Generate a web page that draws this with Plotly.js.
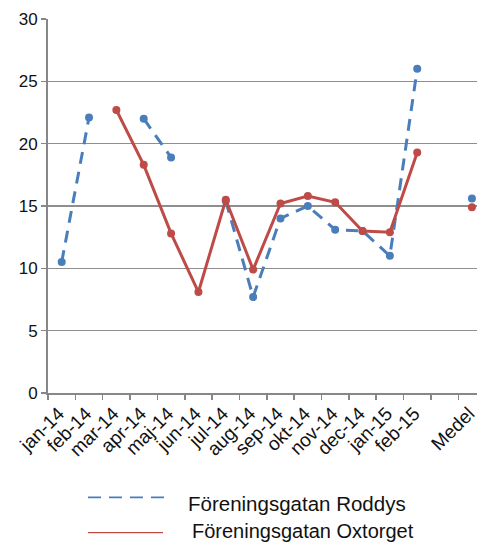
<!DOCTYPE html>
<html>
<head>
<meta charset="utf-8">
<script src="https://cdn.plot.ly/plotly-3.0.1.min.js"></script>
<style>
html,body{margin:0;padding:0;overflow:hidden;background:#fff;}
#chart{width:477px;height:542px;}
</style>
</head>
<body>
<div id="chart"></div>
<script>
var categories = ["jan-14","feb-14","mar-14","apr-14","maj-14","jun-14","jul-14","aug-14","sep-14","okt-14","nov-14","dec-14","jan-15","feb-15"," ","Medel"];
var roddys   = [10.5, 22.1, null, 22.0, 18.9, null, 15.4, 7.7, 14.0, 15.0, 13.1, 13.0, 11.0, 26.0, null, 15.6];
var oxtorget = [null, null, 22.7, 18.3, 12.8, 8.1, 15.5, 9.9, 15.2, 15.8, 15.3, 13.0, 12.9, 19.3, null, 14.9];
var seriesNames = ["Föreningsgatan Roddys", "Föreningsgatan Oxtorget"];
var yTicks = [0, 5, 10, 15, 20, 25, 30];

var blue = "#4A7EBB", red = "#BE4B48";
var W = 477, H = 542, mL = 48, mR = 0, mT = 19, mB = 149;
var pw = W - mL - mR, ph = H - mT - mB;
var catW = 27.35;
var xMax = -0.5 + pw / catW;
function px(x){ return (x - mL) / pw; }
function py(y){ return (H - mB - y) / ph; }

var traces = [
  {x: categories, y: roddys, type: "scatter", mode: "lines+markers", name: seriesNames[0],
   connectgaps: false, showlegend: false, cliponaxis: false,
   line: {color: blue, width: 3, dash: "12px,8px"},
   marker: {color: blue, size: 8}},
  {x: categories, y: oxtorget, type: "scatter", mode: "lines+markers", name: seriesNames[1],
   connectgaps: false, showlegend: false, cliponaxis: false,
   line: {color: red, width: 3},
   marker: {color: red, size: 8}}
];

var layout = {
  width: W, height: H,
  margin: {l: mL, r: mR, t: mT, b: mB},
  paper_bgcolor: "#fff", plot_bgcolor: "#fff",
  font: {family: "Liberation Sans, Arial, sans-serif", size: 16, color: "#111"},
  showlegend: false,
  xaxis: {
    type: "category", categoryorder: "array", categoryarray: categories,
    range: [-0.5, xMax], automargin: false,
    tickangle: -45, tickson: "boundaries", ticks: "outside", ticklen: 5,
    tickcolor: "#878787", tickwidth: 1.5, ticklabelshift: -3,
    showline: true, linecolor: "#878787", linewidth: 2,
    showgrid: false, zeroline: false,
    tickfont: {size: 19, family: "Liberation Sans, Arial, sans-serif", color: "#111"}
  },
  yaxis: {
    range: [0, 30], tickvals: yTicks, ticks: "outside", ticklen: 5,
    tickcolor: "#878787", tickwidth: 1.5, automargin: false,
    showline: true, linecolor: "#878787", linewidth: 2,
    showgrid: true, gridcolor: "#8e8e8e", gridwidth: 1.3, zeroline: false,
    tickfont: {size: 17}
  },
  shapes: [
    {type: "line", xref: "paper", yref: "paper", x0: px(88), x1: px(165), y0: py(497.3), y1: py(497.3),
     line: {color: blue, width: 1.8, dash: "13px,8px"}},
    {type: "line", xref: "paper", yref: "paper", x0: px(88), x1: px(163), y0: py(532.7), y1: py(532.7),
     line: {color: red, width: 1.2}}
  ],
  annotations: [
    {xref: "paper", yref: "paper", x: px(186), y: py(503), xanchor: "left", yanchor: "middle",
     text: seriesNames[0], showarrow: false, font: {size: 20.5, color: "#111"}},
    {xref: "paper", yref: "paper", x: px(189.5), y: py(530.5), xanchor: "left", yanchor: "middle",
     text: seriesNames[1], showarrow: false, font: {size: 20, color: "#111"}}
  ]
};

Plotly.newPlot("chart", traces, layout, {displayModeBar: false, staticPlot: true});
</script>
</body>
</html>
